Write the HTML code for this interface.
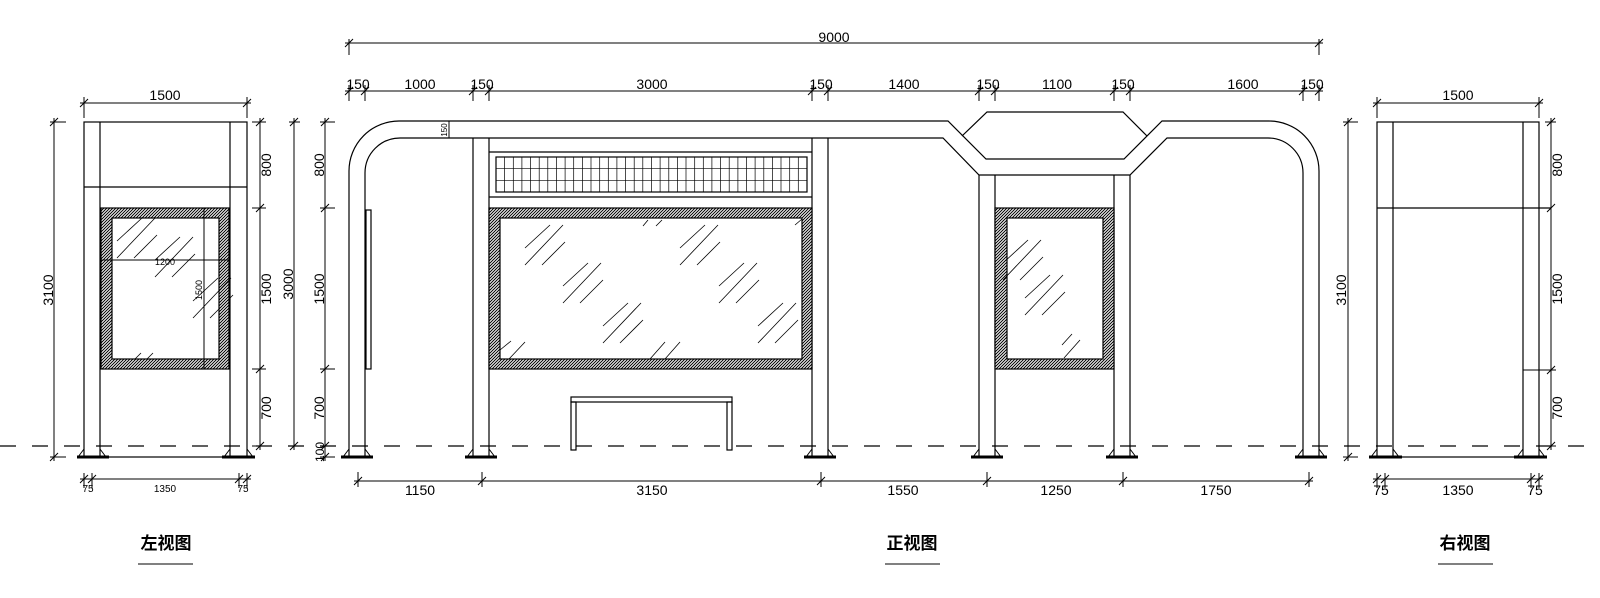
<!DOCTYPE html>
<html><head><meta charset="utf-8"><style>
html,body{margin:0;padding:0;background:#fff;}
svg{display:block;}
text{font-family:"Liberation Sans","Noto Sans CJK SC",sans-serif;fill:#000;}
</style></head><body>
<svg width="1600" height="598" viewBox="0 0 1600 598" xmlns="http://www.w3.org/2000/svg">
<defs>
<pattern id="h" width="3" height="3" patternUnits="userSpaceOnUse">
<rect width="3" height="3" fill="#fff"/>
<path d="M-1,1 L1,-1 M0,3 L3,0 M2,4 L4,2" stroke="#000" stroke-width="1"/>
</pattern>
<g id="gl" stroke="#000" stroke-width="0.8">
<line x1="0" y1="23" x2="25" y2="0"/><line x1="0" y1="40" x2="38" y2="0"/><line x1="17" y1="40" x2="40" y2="17"/>
</g>
<g id="sl"><line x1="-4" y1="4" x2="4" y2="-4" stroke="#000" stroke-width="1"/></g>
</defs>
<g fill="none" stroke="#000" stroke-width="1.2">
<line x1="0" y1="446" x2="1600" y2="446" stroke-dasharray="16 16"/>
<rect x="84" y="122" width="163" height="335"/>
<line x1="100" y1="122" x2="100" y2="457"/><line x1="230" y1="122" x2="230" y2="457"/>
<line x1="84" y1="187" x2="247" y2="187"/>
<rect x="101" y="208" width="128" height="161" fill="url(#h)"/>
<rect x="112" y="218" width="107" height="141" fill="#fff"/>
<line x1="101" y1="260" x2="229" y2="260" stroke-width="1"/>
<line x1="204" y1="208" x2="204" y2="369" stroke-width="1"/>
</g>
<use href="#gl" x="117" y="218"/>
<use href="#gl" x="155" y="237"/>
<use href="#gl" x="193" y="278"/>
<line x1="135" y1="359" x2="141" y2="353" stroke="#000" stroke-width="0.8"/>
<line x1="147" y1="359" x2="153" y2="353" stroke="#000" stroke-width="0.8"/>
<text x="165" y="265" font-size="9" text-anchor="middle">1200</text>
<text transform="translate(202,290) rotate(-90)" font-size="9" text-anchor="middle">1500</text>
<g stroke="#000" stroke-width="3"><line x1="77" y1="457" x2="109" y2="457"/><line x1="222" y1="457" x2="255" y2="457"/></g>
<g stroke="#000" stroke-width="1"><path d="M84,449 L78,457 M100,449 L106,457 M230,449 L224,457 M247,449 L253,457"/></g>

<g stroke="#000" stroke-width="1" fill="none">
<line x1="80" y1="103" x2="251" y2="103"/><line x1="84" y1="97" x2="84" y2="118"/><line x1="247" y1="97" x2="247" y2="118"/>
<line x1="54" y1="118" x2="54" y2="461"/><line x1="50" y1="122" x2="66" y2="122"/><line x1="50" y1="457" x2="66" y2="457"/>
<line x1="260" y1="118" x2="260" y2="450"/>
<line x1="252" y1="122" x2="266" y2="122"/><line x1="252" y1="208" x2="266" y2="208"/><line x1="252" y1="369" x2="266" y2="369"/><line x1="252" y1="446" x2="266" y2="446"/>
<line x1="80" y1="479" x2="251" y2="479"/>
<line x1="84" y1="473" x2="84" y2="488"/><line x1="92" y1="473" x2="92" y2="488"/><line x1="239" y1="473" x2="239" y2="488"/><line x1="247" y1="473" x2="247" y2="488"/>
<line x1="294" y1="118" x2="294" y2="450"/><line x1="289" y1="122" x2="300" y2="122"/><line x1="289" y1="446" x2="300" y2="446"/>
<line x1="325" y1="118" x2="325" y2="461"/>
<line x1="320" y1="122" x2="335" y2="122"/><line x1="320" y1="208" x2="335" y2="208"/><line x1="320" y1="369" x2="335" y2="369"/><line x1="320" y1="446" x2="335" y2="446"/><line x1="320" y1="457" x2="335" y2="457"/>
</g>
<use href="#sl" x="84" y="103"/><use href="#sl" x="247" y="103"/>
<use href="#sl" x="54" y="122"/><use href="#sl" x="54" y="457"/>
<use href="#sl" x="260" y="122"/><use href="#sl" x="260" y="208"/><use href="#sl" x="260" y="369"/><use href="#sl" x="260" y="446"/>
<use href="#sl" x="84" y="479"/><use href="#sl" x="92" y="479"/><use href="#sl" x="239" y="479"/><use href="#sl" x="247" y="479"/>
<use href="#sl" x="294" y="122"/><use href="#sl" x="294" y="446"/>
<use href="#sl" x="325" y="122"/><use href="#sl" x="325" y="208"/><use href="#sl" x="325" y="369"/><use href="#sl" x="325" y="446"/><use href="#sl" x="325" y="457"/>
<text x="165" y="100" font-size="14" text-anchor="middle">1500</text>
<text transform="translate(53,290) rotate(-90)" font-size="14" text-anchor="middle">3100</text>
<text transform="translate(271,165) rotate(-90)" font-size="14" text-anchor="middle">800</text>
<text transform="translate(271,289) rotate(-90)" font-size="14" text-anchor="middle">1500</text>
<text transform="translate(271,408) rotate(-90)" font-size="14" text-anchor="middle">700</text>
<text x="88" y="492" font-size="10" text-anchor="middle">75</text>
<text x="165" y="492" font-size="10" text-anchor="middle">1350</text>
<text x="243" y="492" font-size="10" text-anchor="middle">75</text>
<text transform="translate(293,284) rotate(-90)" font-size="14" text-anchor="middle">3000</text>
<text transform="translate(324,165) rotate(-90)" font-size="14" text-anchor="middle">800</text>
<text transform="translate(324,289) rotate(-90)" font-size="14" text-anchor="middle">1500</text>
<text transform="translate(324,408) rotate(-90)" font-size="14" text-anchor="middle">700</text>
<text transform="translate(324,452) rotate(-90)" font-size="12" text-anchor="middle">100</text>

<g fill="none" stroke="#000" stroke-width="1.2">
<path d="M349,457 V171 A50,50 0 0 1 399,121 H948 L986,159 H1124 L1162,121 H1269 A50,50 0 0 1 1319,171 V457"/>
<path d="M365,457 V173 A35,35 0 0 1 400,138 H943 L979,175 H1130 L1167,138 H1268 A35,35 0 0 1 1303,173 V457"/>
<path d="M962,136 L987,112 H1123 L1147,136"/>
<line x1="449" y1="121" x2="449" y2="138" stroke-width="1"/>
<line x1="473" y1="138" x2="473" y2="457"/><line x1="489" y1="138" x2="489" y2="457"/>
<line x1="812" y1="138" x2="812" y2="457"/><line x1="828" y1="138" x2="828" y2="457"/>
<line x1="979" y1="175" x2="979" y2="457"/><line x1="995" y1="175" x2="995" y2="457"/>
<line x1="1114" y1="175" x2="1114" y2="457"/><line x1="1130" y1="175" x2="1130" y2="457"/>
<line x1="489" y1="152" x2="812" y2="152"/>
<line x1="489" y1="197" x2="812" y2="197"/>
<rect x="496" y="157" width="311" height="35"/>
<rect x="489" y="208" width="323" height="161" fill="url(#h)"/>
<rect x="500" y="218" width="302" height="141" fill="#fff"/>
<rect x="995" y="208" width="119" height="161" fill="url(#h)"/>
<rect x="1007" y="218" width="96" height="141" fill="#fff"/>
<rect x="366" y="210" width="5" height="159"/>
<rect x="571" y="397" width="161" height="5"/>
<rect x="571" y="402" width="5" height="48"/><rect x="727" y="402" width="5" height="48"/>
</g>
<g stroke="#000" stroke-width="0.7">
<line x1="496" y1="168.7" x2="807" y2="168.7"/><line x1="496" y1="180.3" x2="807" y2="180.3"/>
<path d="M504.6,157V192M513.3,157V192M521.9,157V192M530.6,157V192M539.2,157V192M547.8,157V192M556.5,157V192M565.1,157V192M573.7,157V192M582.4,157V192M591,157V192M599.7,157V192M608.3,157V192M616.9,157V192M625.6,157V192M634.2,157V192M642.8,157V192M651.5,157V192M660.1,157V192M668.8,157V192M677.4,157V192M686,157V192M694.7,157V192M703.3,157V192M711.9,157V192M720.6,157V192M729.2,157V192M737.9,157V192M746.5,157V192M755.1,157V192M763.8,157V192M772.4,157V192M781,157V192M789.7,157V192M798.3,157V192"/>
</g>
<use href="#gl" x="525" y="225"/><use href="#gl" x="563" y="263"/><use href="#gl" x="603" y="303"/>
<use href="#gl" x="680" y="225"/><use href="#gl" x="719" y="263"/><use href="#gl" x="758" y="303"/>
<g stroke="#000" stroke-width="0.8">
<line x1="500" y1="350" x2="511" y2="341"/><line x1="509" y1="359" x2="525" y2="342"/>
<line x1="650" y1="359" x2="665" y2="342"/><line x1="665" y1="359" x2="680" y2="342"/>
<line x1="643" y1="226" x2="648" y2="220"/><line x1="656" y1="226" x2="662" y2="220"/>
<line x1="795" y1="225" x2="802" y2="219"/>
</g>
<use href="#gl" x="1003" y="240"/><use href="#gl" x="1025" y="275"/>
<g stroke="#000" stroke-width="0.8"><line x1="1062" y1="345" x2="1072" y2="334"/><line x1="1064" y1="358" x2="1080" y2="340"/></g>
<g stroke="#000" stroke-width="3">
<line x1="341" y1="457" x2="373" y2="457"/><line x1="465" y1="457" x2="497" y2="457"/>
<line x1="804" y1="457" x2="836" y2="457"/><line x1="971" y1="457" x2="1003" y2="457"/>
<line x1="1106" y1="457" x2="1138" y2="457"/><line x1="1295" y1="457" x2="1327" y2="457"/>
</g>
<g stroke="#000" stroke-width="1">
<path d="M349,449L343,457M365,449L371,457M473,449L467,457M489,449L495,457M812,449L806,457M828,449L834,457M979,449L973,457M995,449L1001,457M1114,449L1108,457M1130,449L1136,457M1303,449L1297,457M1319,449L1325,457"/>
</g>
<g stroke="#000" stroke-width="1">
<line x1="345" y1="43" x2="1323" y2="43"/><line x1="349" y1="39" x2="349" y2="55"/><line x1="1319" y1="39" x2="1319" y2="55"/>
<line x1="345" y1="91" x2="1323" y2="91"/>
<path d="M349,85V101M365,85V101M473,85V101M489,85V101M812,85V101M828,85V101M979,85V101M995,85V101M1114,85V101M1130,85V101M1303,85V101M1319,85V101"/>
<line x1="354" y1="481" x2="1313" y2="481"/>
<path d="M358,472V487M482,472V487M821,472V487M987,472V487M1123,472V487M1309,472V487"/>
</g>
<use href="#sl" x="349" y="43"/><use href="#sl" x="1319" y="43"/>
<use href="#sl" x="349" y="91"/><use href="#sl" x="365" y="91"/><use href="#sl" x="473" y="91"/><use href="#sl" x="489" y="91"/><use href="#sl" x="812" y="91"/><use href="#sl" x="828" y="91"/><use href="#sl" x="979" y="91"/><use href="#sl" x="995" y="91"/><use href="#sl" x="1114" y="91"/><use href="#sl" x="1130" y="91"/><use href="#sl" x="1303" y="91"/><use href="#sl" x="1319" y="91"/>
<use href="#sl" x="358" y="481"/><use href="#sl" x="482" y="481"/><use href="#sl" x="821" y="481"/><use href="#sl" x="987" y="481"/><use href="#sl" x="1123" y="481"/><use href="#sl" x="1309" y="481"/>
<g font-size="14" text-anchor="middle">
<text x="834" y="42">9000</text>
<text x="358" y="89">150</text><text x="420" y="89">1000</text><text x="482" y="89">150</text>
<text x="652" y="89">3000</text><text x="821" y="89">150</text><text x="904" y="89">1400</text>
<text x="988" y="89">150</text><text x="1057" y="89">1100</text><text x="1123" y="89">150</text>
<text x="1243" y="89">1600</text><text x="1312" y="89">150</text>
<text x="420" y="495">1150</text><text x="652" y="495">3150</text><text x="903" y="495">1550</text>
<text x="1056" y="495">1250</text><text x="1216" y="495">1750</text>
</g>
<text transform="translate(447,130) rotate(-90)" font-size="8" text-anchor="middle">150</text>

<g fill="none" stroke="#000" stroke-width="1.2">
<rect x="1377" y="122" width="162" height="335"/>
<line x1="1393" y1="122" x2="1393" y2="457"/><line x1="1523" y1="122" x2="1523" y2="457"/>
<line x1="1377" y1="208" x2="1551" y2="208"/>
</g>
<g stroke="#000" stroke-width="3"><line x1="1369" y1="457" x2="1402" y2="457"/><line x1="1514" y1="457" x2="1547" y2="457"/></g>
<g stroke="#000" stroke-width="1"><path d="M1377,449L1371,457M1393,449L1399,457M1523,449L1517,457M1539,449L1545,457"/></g>
<g stroke="#000" stroke-width="1">
<line x1="1373" y1="103" x2="1543" y2="103"/><line x1="1377" y1="97" x2="1377" y2="118"/><line x1="1539" y1="97" x2="1539" y2="118"/>
<line x1="1348" y1="118" x2="1348" y2="461"/><line x1="1343" y1="122" x2="1358" y2="122"/><line x1="1343" y1="457" x2="1358" y2="457"/>
<line x1="1551" y1="118" x2="1551" y2="450"/>
<line x1="1545" y1="122" x2="1556" y2="122"/><line x1="1523" y1="370" x2="1556" y2="370"/><line x1="1545" y1="446" x2="1556" y2="446"/>
<line x1="1373" y1="479" x2="1543" y2="479"/>
<path d="M1377,473V488M1385,473V488M1531,473V488M1539,473V488"/>
</g>
<use href="#sl" x="1377" y="103"/><use href="#sl" x="1539" y="103"/>
<use href="#sl" x="1348" y="122"/><use href="#sl" x="1348" y="457"/>
<use href="#sl" x="1551" y="122"/><use href="#sl" x="1551" y="208"/><use href="#sl" x="1551" y="370"/><use href="#sl" x="1551" y="446"/>
<use href="#sl" x="1377" y="479"/><use href="#sl" x="1385" y="479"/><use href="#sl" x="1531" y="479"/><use href="#sl" x="1539" y="479"/>
<g font-size="14" text-anchor="middle">
<text x="1458" y="100">1500</text>
<text transform="translate(1346,290) rotate(-90)">3100</text>
<text transform="translate(1562,165) rotate(-90)">800</text>
<text transform="translate(1562,289) rotate(-90)">1500</text>
<text transform="translate(1562,408) rotate(-90)">700</text>
<text x="1381" y="495">75</text><text x="1458" y="495">1350</text><text x="1535" y="495">75</text>
</g>

<g font-size="17" font-weight="bold" text-anchor="middle">
<text x="166" y="549">左视图</text>
<text x="912" y="549">正视图</text>
<text x="1465" y="549">右视图</text>
</g>
<g stroke="#000" stroke-width="1">
<line x1="138" y1="564" x2="193" y2="564"/>
<line x1="885" y1="564" x2="940" y2="564"/>
<line x1="1438" y1="564" x2="1493" y2="564"/>
</g>
</svg>
</body></html>
